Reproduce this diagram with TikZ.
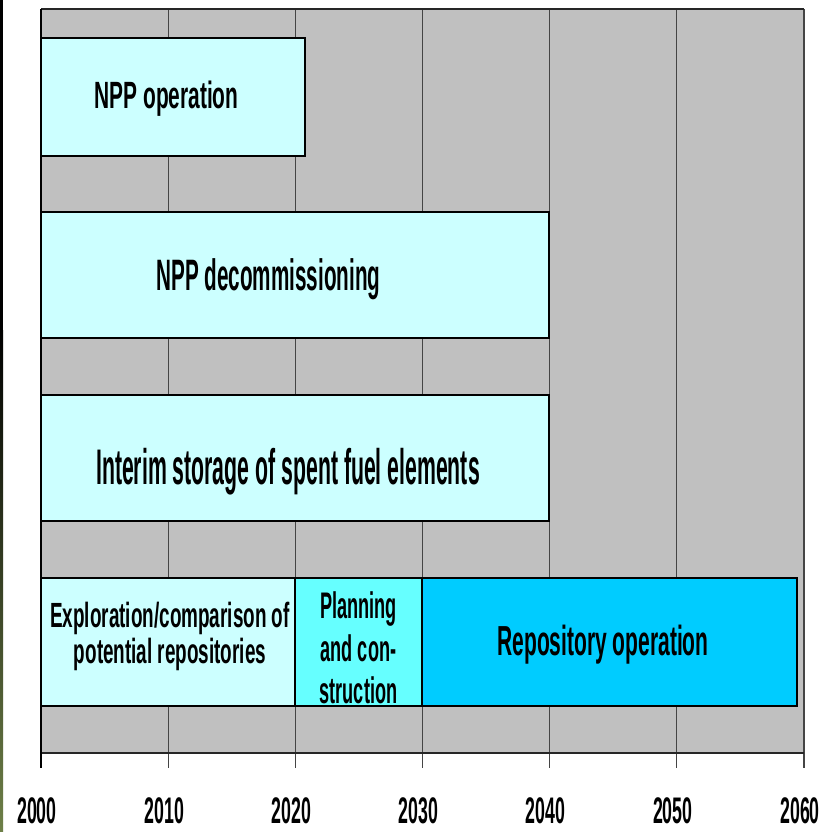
\documentclass[tikz,border=0pt]{standalone}
\usepackage{fontspec}
\setmainfont{Liberation Sans}
\definecolor{chartgrey}{HTML}{C0C0C0}
\definecolor{paleaqua}{HTML}{CCFFFF}
\definecolor{midaqua}{HTML}{66FFFF}
\definecolor{deepaqua}{HTML}{00CCFF}
\definecolor{gridgrey}{HTML}{454545}
\definecolor{stripolive}{HTML}{6E8048}
% size, baselineskip, horizontal squeeze
\newcommand\barfont[3]{\fontsize{#1}{#2}\selectfont\bfseries\addfontfeature{FakeStretch=#3}}
\begin{document}
\begin{tikzpicture}[x=1pt,y=-1pt,
  phase/.style={draw=black, line width=1.8pt},
  gridline/.style={draw=gridgrey, line width=1.2pt},
  frame/.style={draw=black!85, line width=2pt},
  lbl/.style={inner sep=0pt, align=center},
  yearlbl/.style={inner sep=0pt, anchor=base, font=\barfont{37}{37}{0.48}}]
\useasboundingbox (0,0) rectangle (823,832);
\fill[white] (0,0) rectangle (823,832);
% dark edge strip on the left
\fill[black] (0,0) rectangle (3,330);
\shade[top color=black, bottom color=stripolive] (0,330) rectangle (3,832);

% chart background and decade lines
\fill[chartgrey] (41,9) rectangle (804,753);
\foreach \k in {1,...,5}
  \draw[gridline] ({41+127.17*\k},9) -- ({41+127.17*\k},768);
\draw[gridline] (804,9) -- (804,768);
\draw[frame] (41,9) -- (804,9);
\draw[frame] (41,753) -- (804,753);
\draw[line width=2pt, black] (41,9) -- (41,768);

% phase bars
\path[phase, fill=paleaqua] (41,38) rectangle (305,156);
\path[phase, fill=paleaqua] (41,212) rectangle (549,338);
\path[phase, fill=paleaqua] (41,395) rectangle (549,521);
\path[phase, fill=paleaqua] (41,578) rectangle (295,706);
\path[phase, fill=midaqua] (295,578) rectangle (422,706);
\path[phase, fill=deepaqua] (422,578) rectangle (797,706);

% bar labels
\node[lbl, anchor=base, font=\barfont{38}{38}{0.55}] (op) at (166.5,109) {NPP operation};
\node[lbl, anchor=base, font=\barfont{44}{44}{0.47}] (decom) at (268.5,290) {NPP decommissioning};
\node[lbl, anchor=base, font=\barfont{50}{50}{0.425}] (store) at (288,484) {Interim storage of spent fuel elements};
\node[lbl, font=\barfont{35}{36}{0.54}] (explore) at (170,636) {Exploration/comparison of\\potential repositories};
\node[lbl, font=\barfont{37}{42.5}{0.49}] (plan) at (358.5,648) {Planning\\and con-\\struction};
\node[lbl, anchor=base, font=\barfont{42}{42}{0.5}] (repo) at (603,655) {Repository operation};

% decade labels
\foreach \yr [count=\i from 0] in {2000,2010,...,2060}
  \node[yearlbl] (y\yr) at ({41+127.17*\i-4},823) {\yr};
\end{tikzpicture}
\end{document}
